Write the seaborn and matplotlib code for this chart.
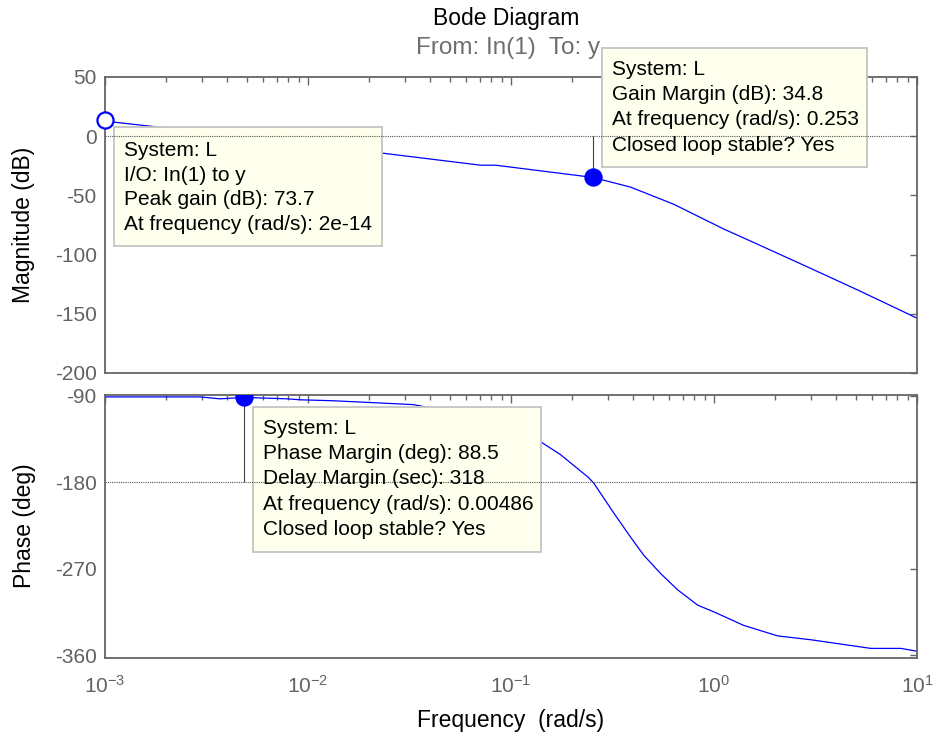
import matplotlib
matplotlib.use("Agg")
import matplotlib.pyplot as plt
import seaborn as sns
from matplotlib.patches import Rectangle
from matplotlib.ticker import LogLocator, LogFormatterMathtext, NullFormatter, FixedLocator

# Open-loop response L(jw): magnitude (dB) and phase (deg) versus frequency (rad/s)
mag_freq = [0.001, 0.00112, 0.00226, 0.0235, 0.0708, 0.0840, 0.253, 0.388, 0.632,
            1.12, 1.52, 2.77, 5.12, 7.19, 10.0]
mag_db = [13.5, 11.8, 5.9, -14.4, -24.5, -24.5, -34.8, -43.0, -57.4,
          -78.5, -88.7, -109.0, -130.0, -142.0, -153.7]

phase_freq = [0.001, 0.00294, 0.00369, 0.00486, 0.0079, 0.00917, 0.0133, 0.021, 0.033,
              0.08, 0.143, 0.175, 0.241, 0.256, 0.321, 0.388, 0.451, 0.546, 0.662,
              0.832, 1.0, 1.40, 2.06, 3.0, 5.93, 8.34, 10.0]
phase_deg = [-91.0, -91.0, -93.0, -91.5, -93.0, -94.0, -95.0, -97.0, -99.0,
             -115.0, -139.0, -151.0, -175.0, -181.0, -212.0, -237.0, -256.0, -275.0, -292.0,
             -308.0, -315.0, -329.0, -340.0, -344.0, -353.0, -353.0, -356.0]

# Stability margins reported by the data tips
peak_marker = (0.001, 13.5)
gm_freq, gm_db = 0.253, -34.8
pm_freq, pm_deg = 0.00486, -91.5

peak_tip = ["System: L", "I/O: In(1) to y", "Peak gain (dB): 73.7",
            "At frequency (rad/s): 2e-14"]
gm_tip = ["System: L", "Gain Margin (dB): 34.8", "At frequency (rad/s): 0.253",
          "Closed loop stable? Yes"]
pm_tip = ["System: L", "Phase Margin (deg): 88.5", "Delay Margin (sec): 318",
          "At frequency (rad/s): 0.00486", "Closed loop stable? Yes"]

mag_ticks = [50, 0, -50, -100, -150, -200]
phase_ticks = [-90, -180, -270, -360]

sns.set_theme(style="white")
plt.rcParams["font.family"] = ["Liberation Sans", "DejaVu Sans"]
plt.rcParams["mathtext.default"] = "regular"
plt.rcParams["axes.unicode_minus"] = False

W, H = 935, 738
fig = plt.figure(figsize=(W / 100, H / 100), dpi=100)
fig.patch.set_facecolor("white")


def fig_rect(x0, y0, x1, y1):
    """Pixel box (top-left origin) to figure-fraction [left, bottom, width, height]."""
    return [x0 / W, 1 - y1 / H, (x1 - x0) / W, (y1 - y0) / H]


ax_mag = fig.add_axes(fig_rect(105, 77, 917, 373))
ax_ph = fig.add_axes(fig_rect(105, 395, 917, 658))

AXIS_GRAY = "#666666"
TICK_GRAY = "#626262"
BLUE = "#0000FF"

for ax in (ax_mag, ax_ph):
    ax.set_xscale("log")
    ax.set_xlim(1e-3, 10)
    ax.set_facecolor("white")
    for s in ax.spines.values():
        s.set_color(AXIS_GRAY)
        s.set_linewidth(1.3)
    ax.xaxis.set_major_locator(LogLocator(base=10, numticks=10))
    ax.xaxis.set_minor_locator(LogLocator(base=10, subs=range(2, 10), numticks=20))
    ax.xaxis.set_minor_formatter(NullFormatter())
    ax.tick_params(axis="both", which="both", direction="in", top=True, right=True,
                   colors=AXIS_GRAY, labelcolor=TICK_GRAY, labelsize=15, width=1.0)
    ax.tick_params(axis="x", which="major", length=6, pad=12)
    ax.tick_params(axis="x", which="minor", length=3.5)
    ax.tick_params(axis="y", which="major", length=5, pad=6)

ax_mag.set_ylim(-200, 50)
ax_mag.yaxis.set_major_locator(FixedLocator(mag_ticks))
ax_mag.xaxis.set_major_formatter(NullFormatter())

ax_ph.set_ylim(-363, -89)
ax_ph.yaxis.set_major_locator(FixedLocator(phase_ticks))
ax_ph.xaxis.set_major_formatter(LogFormatterMathtext())

# Response curves
sns.lineplot(x=mag_freq, y=mag_db, ax=ax_mag, color=BLUE, linewidth=0.9,
             estimator=None, sort=False, legend=False, zorder=2)
sns.lineplot(x=phase_freq, y=phase_deg, ax=ax_ph, color=BLUE, linewidth=0.9,
             estimator=None, sort=False, legend=False, zorder=2)

# Data tip boxes (drawn above the curves of the axes they belong to)
tip_boxes = [(ax_mag, (114, 127, 382, 246)), (ax_mag, (602, 48, 867, 167)),
             (ax_ph, (253, 407, 541, 552))]
for owner, (x0, y0, x1, y1) in tip_boxes:
    l, b, w, h = fig_rect(x0, y0, x1, y1)
    owner.add_patch(Rectangle((l, b), w, h, transform=fig.transFigure, clip_on=False,
                              facecolor="#FFFFEE", edgecolor="#C4C4C4",
                              linewidth=1.3, zorder=3))

# Reference lines: 0 dB and -180 deg
ax_mag.axhline(0, color="#555555", linestyle=(0, (1, 1)), linewidth=0.8, zorder=4)
ax_ph.axhline(-180, color="#555555", linestyle=(0, (1, 1)), linewidth=0.8, zorder=4)
ax_mag.vlines(gm_freq, gm_db, 0, color="#404040", linewidth=0.8, zorder=4)
ax_ph.vlines(pm_freq, -180, pm_deg, color="#404040", linewidth=0.8, zorder=4)

# Markers
ax_mag.scatter([peak_marker[0]], [peak_marker[1]], s=135, facecolor="white",
               edgecolor=BLUE, linewidth=1.6, zorder=5, clip_on=False)
sns.scatterplot(x=[gm_freq], y=[gm_db], ax=ax_mag, s=175, color=BLUE,
                edgecolor=BLUE, linewidth=0, zorder=5, legend=False)
sns.scatterplot(x=[pm_freq], y=[pm_deg], ax=ax_ph, s=175, color=BLUE,
                edgecolor=BLUE, linewidth=0, zorder=5, legend=False)

# Data tip text
tip_text = [(peak_tip, 124, 156, 24.7), (gm_tip, 612, 75, 25.2), (pm_tip, 263, 434, 25.2)]
for lines, tx, ty, step in tip_text:
    for i, line in enumerate(lines):
        fig.text(tx / W, 1 - (ty + i * step) / H, line, fontsize=15, color="black",
                 ha="left", va="baseline", zorder=6)

# Titles and axis labels
fig.text(506 / W, 1 - 18 / H, "Bode Diagram", fontsize=16.5, color="black",
         ha="center", va="center")
fig.text(508 / W, 1 - 48 / H, "From: In(1)  To: y", fontsize=17.5, color="#6E6E6E",
         ha="center", va="center")
fig.text(24 / W, 1 - 225 / H, "Magnitude (dB)", fontsize=16.5, color="black",
         rotation=90, ha="center", va="center")
fig.text(24 / W, 1 - 526 / H, "Phase (deg)", fontsize=16.5, color="black",
         rotation=90, ha="center", va="center")
fig.text(511 / W, 1 - 720 / H, "Frequency  (rad/s)", fontsize=16.5, color="black",
         ha="center", va="center")

fig.savefig("out.png", dpi=100, facecolor="white")
